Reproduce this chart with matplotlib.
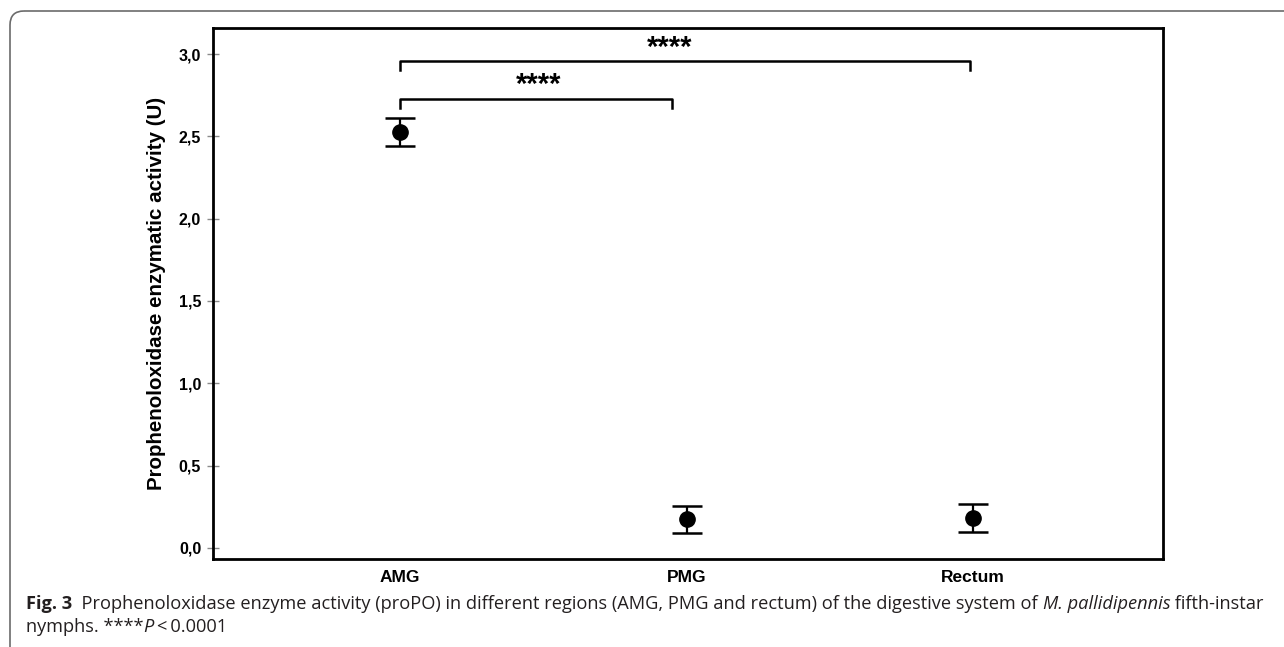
import matplotlib
matplotlib.use("Agg")
from matplotlib import pyplot as plt
from matplotlib.patches import FancyBboxPatch
from matplotlib.transforms import Affine2D
from matplotlib.ticker import FuncFormatter

W, H = 1284, 647

regions = ["AMG", "PMG", "Rectum"]
means = [2.525, 0.175, 0.18]
err_low = [2.44, 0.09, 0.097]
err_high = [2.61, 0.255, 0.265]

# significance brackets: (start, end, height, star x, star y)
brackets = [(0, 0.95, 2.725, 0.485, 2.81), (0, 1.99, 2.955, 0.94, 3.036)]
sig_label = "****"

plt.rcParams['font.family'] = ['Liberation Sans', 'DejaVu Sans']

fig = plt.figure(figsize=(W / 100, H / 100), dpi=100)
ax = fig.add_axes([213 / W, 1 - 559 / H, (1163 - 213) / W, (559 - 28) / H])

x = list(range(len(regions)))
yerr = [[m - lo for m, lo in zip(means, err_low)],
        [hi - m for m, hi in zip(means, err_high)]]
ax.errorbar(x, means, yerr=yerr, fmt='o', color='black', markersize=11,
            elinewidth=1.6, capsize=10.5, capthick=1.8, zorder=3)

for x0, x1, h, sx, sy in brackets:
    ax.plot([x0, x0, x1, x1], [h - 0.05, h, h, h - 0.05], color='black', lw=1.8)
    ax.text(sx, sy, sig_label, ha='center', va='center',
            fontsize=21, fontweight='bold')

ax.set_xlim(-0.653, 2.663)
ax.set_ylim(-0.067, 3.158)
ax.set_xticks(x)
ax.set_xticklabels(regions, fontsize=12.5, fontweight='bold')
ax.set_yticks([0, 0.5, 1, 1.5, 2, 2.5, 3])
ax.yaxis.set_major_formatter(FuncFormatter(lambda v, p: f"{v:.1f}".replace('.', ',')))
for t in ax.get_yticklabels():
    t.set_fontweight('bold')
    t.set_fontsize(11.5)
ax.tick_params(axis='y', direction='inout', length=9, width=1, color='#8a8a8a', pad=4)
ax.tick_params(axis='x', length=0, pad=8)
ax.set_ylabel("Prophenoloxidase enzymatic activity (U)", fontsize=14.8,
              fontweight='bold', labelpad=9)
for s in ax.spines.values():
    s.set_linewidth(2)

# card frame, pixel coordinates with origin at top left
px = Affine2D().scale(1 / W, -1 / H).translate(0, 1) + fig.transFigure
frame = FancyBboxPatch((10, 11), 1320, 680, boxstyle="round,pad=0,rounding_size=14",
                       transform=px, fill=False, edgecolor='#6b6b6b', lw=1.2)
fig.patches.append(frame)

# caption, drawn piece by piece
cap_font = ['Open Sans', 'DejaVu Sans']
renderer = fig.canvas.get_renderer()

line1 = [("Fig. 3", dict(fontweight='bold')),
         ("  Prophenoloxidase enzyme activity (proPO) in different regions (AMG, PMG and rectum) "
          "of the digestive system of ", {}),
         ("M. pallidipennis", dict(style='italic')),
         (" fifth-instar", {})]
line2 = [("nymphs. ****", {}), ("P", dict(style='italic')), ("\u2009<\u20090.0001", {})]


def line(pieces, x0, y0, fs):
    xc = x0
    for txt, kw in pieces:
        t = fig.text(xc, y0, txt, transform=px, fontsize=fs, color='#231f20',
                     family=cap_font, va='baseline', **kw)
        xc += t.get_window_extent(renderer).width
    return xc


# fit the first line to the reference width
fs = 11.5
end = line(line1, 26, 609, fs)
for t in list(fig.texts):
    t.remove()
fs = fs * (1267 - 26) / (end - 26)
line(line1, 26, 609, fs)
line(line2, 26, 632, fs)

fig.savefig("out.png", dpi=100)
